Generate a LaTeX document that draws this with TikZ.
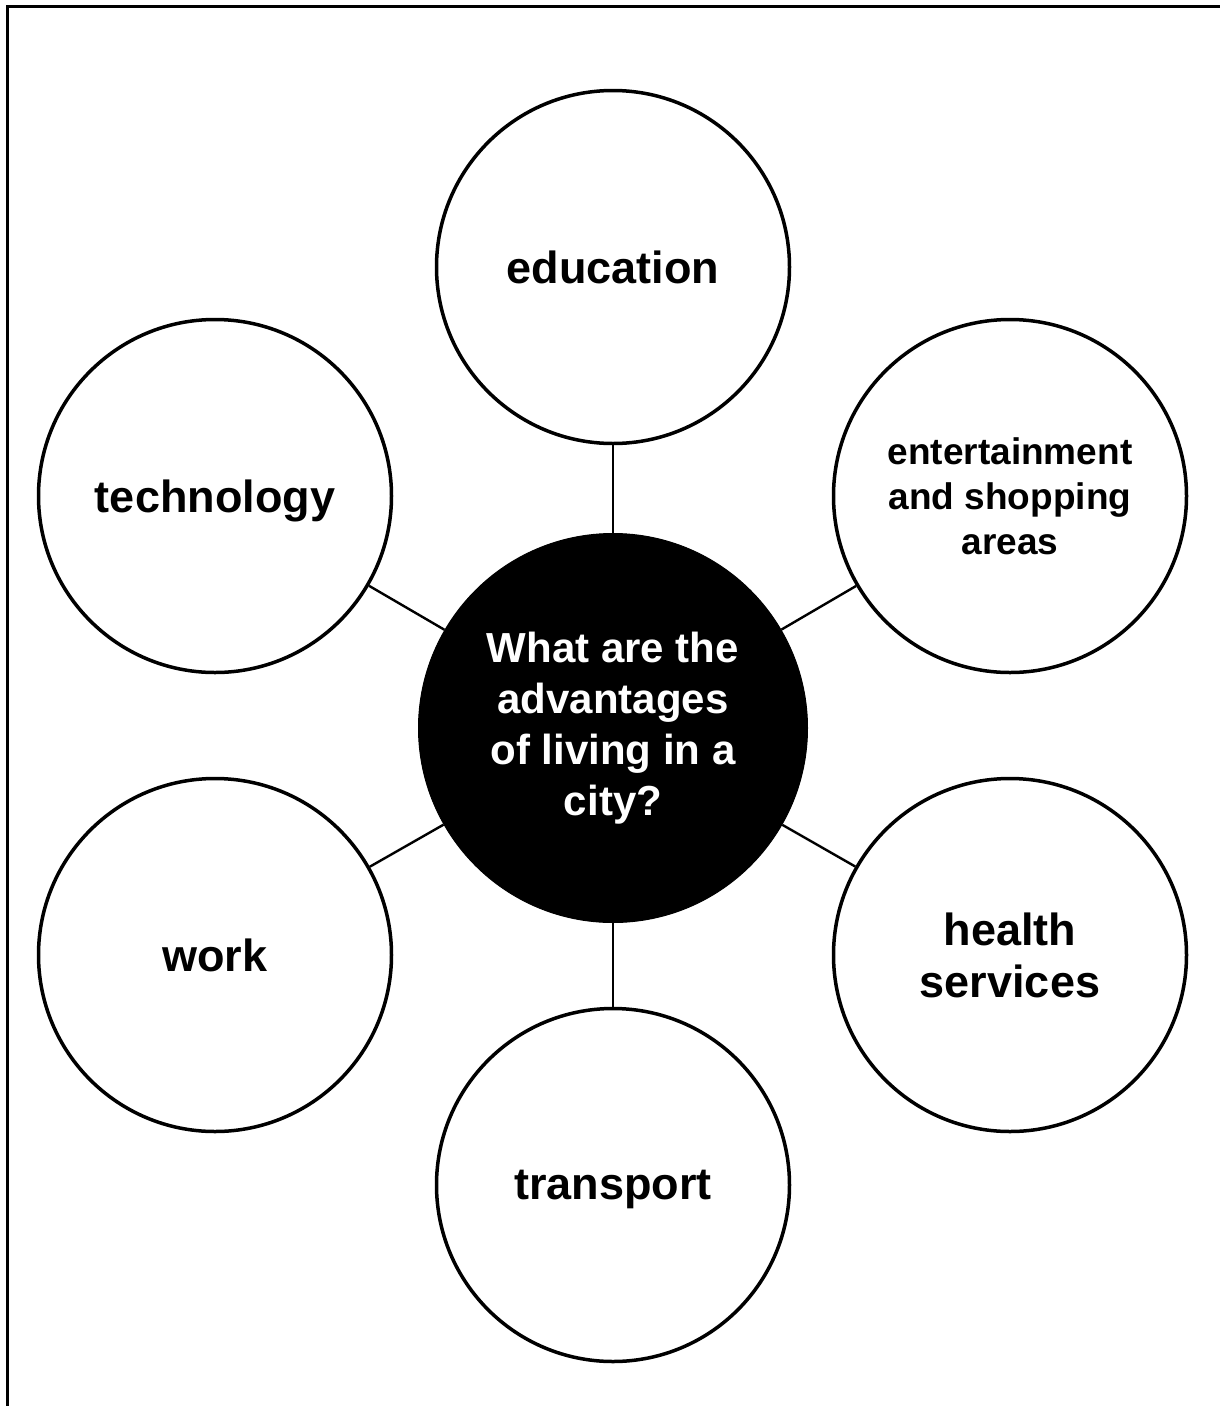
\documentclass[tikz,border=0pt]{standalone}
\usepackage{fontspec}
\setmainfont{Liberation Sans}
\begin{document}
\begin{tikzpicture}[x=1pt,y=-1pt,
  outer/.style={circle,draw=black,line width=3.5pt,minimum size=353pt,inner sep=0pt,align=center,font=\bfseries\fontsize{45}{52}\selectfont},
  hub/.style={circle,fill=black,draw=black,line width=1pt,minimum size=389pt,inner sep=0pt,align=center,text=white,font=\bfseries\fontsize{42}{51}\selectfont},
  link/.style={line width=2.4pt,draw=black}]
\useasboundingbox (0,0) rectangle (1220,1406);
\draw[line width=3pt] (7,1410) -- (7,6) -- (1225,6);
\node[hub] (c) at (613,728) {What are the\\advantages\\of living in a\\city?};
\node[outer] (edu) at (613,267) {education};
\node[outer,text depth=0pt] (tech) at (215,496) {technology};
\node[outer,font=\bfseries\fontsize{37}{45}\selectfont] (ent) at (1010,496) {entertainment\\and shopping\\areas};
\node[outer] (work) at (215,955) {work};
\node[outer] (health) at (1010,955) {health\\services};
\node[outer,text depth=0pt] (trans) at (613,1185) {transport};
\foreach \n in {edu,tech,ent,work,health,trans}
  \draw[link] (c) -- (\n);
\end{tikzpicture}
\end{document}
